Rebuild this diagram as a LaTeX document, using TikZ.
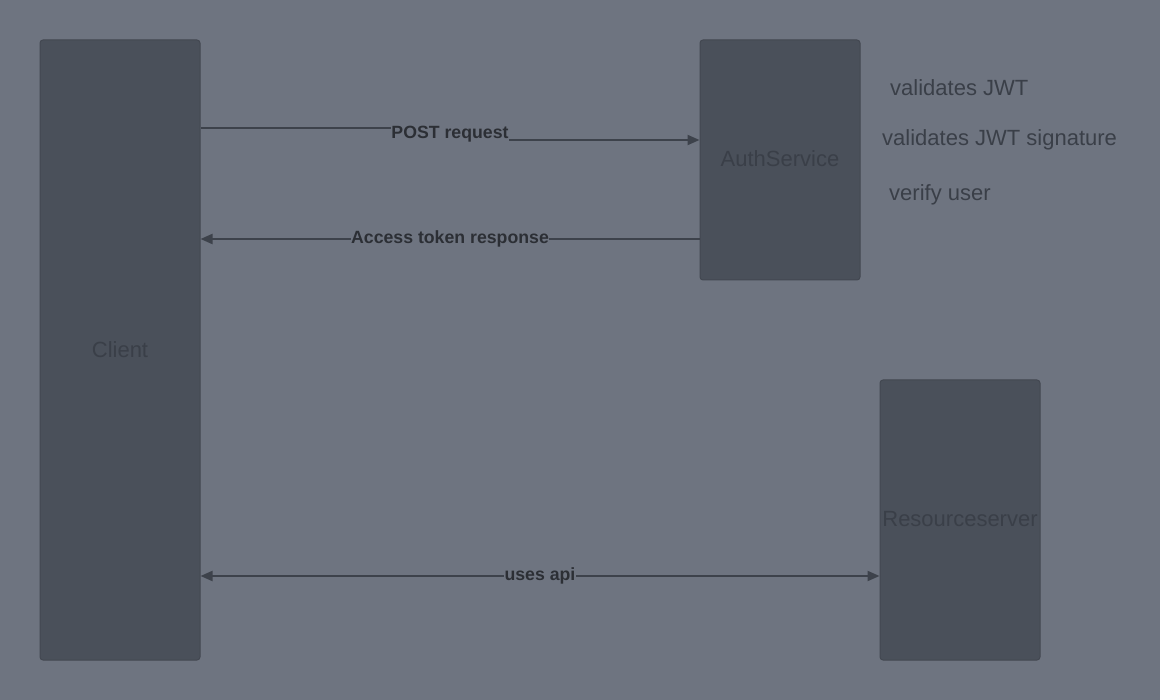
\documentclass[tikz,border=0pt]{standalone}
\usepackage{fontspec}
\setmainfont{Liberation Sans}
\usetikzlibrary{arrows.meta}
\definecolor{bg}{HTML}{6E7480}
\definecolor{boxfill}{HTML}{4A505A}
\definecolor{boxline}{HTML}{434851}
\definecolor{boxtext}{HTML}{3A3F48}
\definecolor{linecol}{HTML}{3D424B}
\definecolor{lbltext}{HTML}{2C2F35}
\begin{document}
\begin{tikzpicture}
  [x=1pt,y=-1pt,every node/.style={font=\fontsize{22}{26}\selectfont,text=boxtext}]
  \tikzstyle{box} = [draw=boxline,fill=boxfill,rounded corners=3pt,line width=1pt,inner sep=0pt,minimum width=160pt]
  \tikzstyle{conn} = [draw=linecol,line width=2pt,-{Triangle[length=12pt,width=10pt]}]
  \tikzstyle{weight} = [fill=bg,inner sep=0.5pt,text=lbltext,font=\bfseries\fontsize{17.7}{20}\selectfont]
  \fill[bg] (0,0) rectangle (1160,700);
  \useasboundingbox (0,0) rectangle (1160,700);
  \node[box,minimum height=620pt] (client) at (120,350) {Client};
  \node[box,minimum height=240pt] (auth) at (780,160) {\raisebox{3pt}{AuthService}};
  \node[box,minimum height=280pt] (res) at (960,520) {\raisebox{3pt}{Resourceserver}};

\foreach \name /\x /\y /\note in {n1/890/88/validates JWT,n2/882/140/validates JWT signature,n3/889/195/verify user}
   \node[anchor=west,inner sep=0pt] (\name) at (\x,\y) {\note};

  \node[weight] (post) at (450,134) {POST request};
  \draw[draw=linecol,line width=2pt] (client.east |- 0,128) -- (post.west |- 0,128);
  \draw[conn] (post.east |- 0,140) -- (auth.west |- 0,140);
  \draw[conn] (auth.west |- 0,239) -- node[weight] (token) {Access token response} (client.east |- 0,239);
  \draw[conn,{Triangle[length=12pt,width=10pt]}-{Triangle[length=12pt,width=10pt]}] (client.east |- 0,576) -- node[weight] (api) {uses api} (res.west |- 0,576);

  \end{tikzpicture}
\end{document}
